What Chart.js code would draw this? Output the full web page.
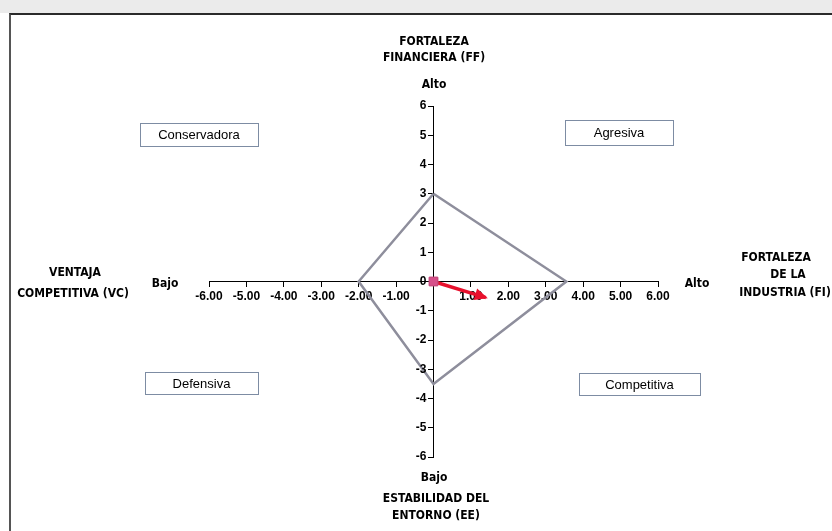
<!DOCTYPE html>
<html lang="es">
<head>
<meta charset="utf-8">
<title>Matriz PEYEA</title>
<script src="https://cdn.jsdelivr.net/npm/chart.js@4/dist/chart.umd.min.js"></script>
<style>
  body { margin: 0; width: 832px; height: 531px; overflow: hidden; background: #fff; position: relative; }
  #banda { position: absolute; left: 0; top: 0; width: 832px; height: 13px; background: #ebebeb; }
  #marco { position: absolute; left: 9px; top: 13px; width: 840px; height: 540px; border-top: 2px solid #2a2a2a; border-left: 2px solid #555; }
  #grafico { position: absolute; left: 0; top: 0; }
</style>
</head>
<body>
<div id="banda"></div>
<div id="marco"></div>
<canvas id="grafico" width="832" height="531"></canvas>
<script>
// === Datos de la matriz PEYEA ===
// Vértices del polígono: FF (arriba), FI (derecha), EE (abajo), VC (izquierda)
const vertices = ["FF", "FI", "EE", "VC", "FF"];
const poligonoX = [0, 3.55, 0, -2.0, 0];
const poligonoY = [3.0, 0, -3.5, 0, 3.0];

// Vector direccional (desde el origen)
const vectorX = [0, 1.4];
const vectorY = [0, -0.55];

// Marcas de los ejes
const ticksX = [-6, -5, -4, -3, -2, -1, 0, 1, 2, 3, 4, 5, 6];
const ticksY = [-6, -5, -4, -3, -2, -1, 0, 1, 2, 3, 4, 5, 6];

// Nombres de los cuadrantes
const cuadrantes = ["Conservadora", "Agresiva", "Defensiva", "Competitiva"];

// === Colores ===
const colores = {
  poligono: '#8e8e9c',
  vector: '#e8112d',
  origen: '#d6508a',
  texto: '#000000',
  caja: '#7d8ca3'
};

const fuenteTitulo = '"Liberation Sans Narrow", "DejaVu Sans Condensed", sans-serif';
const fuenteNormal = '"Liberation Sans", Arial, sans-serif';
const fuenteTicks = { family: fuenteNormal, size: 12, weight: 'bold' };

// === Punta de flecha al final del vector ===
const flechaPlugin = {
  id: 'flecha',
  afterDatasetsDraw(chart) {
    const meta = chart.getDatasetMeta(1);
    if (!meta || meta.data.length < 2) return;
    const p0 = meta.data[0];
    const p1 = meta.data[meta.data.length - 1];
    const ang = Math.atan2(p1.y - p0.y, p1.x - p0.x);
    const ctx = chart.ctx;
    ctx.save();
    ctx.translate(p1.x, p1.y);
    ctx.rotate(ang);
    ctx.fillStyle = colores.vector;
    ctx.beginPath();
    ctx.moveTo(2, 0);
    ctx.lineTo(-11, -6);
    ctx.lineTo(-11, 6);
    ctx.closePath();
    ctx.fill();
    ctx.restore();

    // el marcador del origen queda por encima del vector
    const origen = chart.getDatasetMeta(2);
    if (origen && origen.data[0]) origen.data[0].draw(ctx, chart.chartArea);
  }
};

// === Etiquetas del eje Y a la izquierda del eje central ===
const etiquetasYPlugin = {
  id: 'etiquetasY',
  afterDraw(chart) {
    const { x: sx, y: sy } = chart.scales;
    const ctx = chart.ctx;
    const x0 = sx.getPixelForValue(0);
    ctx.save();
    ctx.font = `${fuenteTicks.weight} ${fuenteTicks.size}px ${fuenteTicks.family}`;
    ctx.fillStyle = colores.texto;
    ctx.textAlign = 'right';
    ctx.textBaseline = 'middle';
    ticksY.forEach(v => {
      ctx.fillText(String(v), x0 - 7, sy.getPixelForValue(v));
    });
    ctx.restore();
  }
};

// === Títulos de ejes y cajas de cuadrantes ===
const textosPlugin = {
  id: 'textos',
  afterDraw(chart) {
    const ctx = chart.ctx;
    ctx.save();
    ctx.fillStyle = colores.texto;
    ctx.textAlign = 'center';
    ctx.textBaseline = 'middle';

    const escribir = (txt, x, y, fuente) => {
      ctx.font = fuente;
      ctx.fillText(txt, x, y);
    };
    const tit = `bold 12px ${fuenteTitulo}`;

    // Eje vertical superior
    escribir("FORTALEZA", 434, 42, tit);
    escribir("FINANCIERA (FF)", 434, 58, tit);
    escribir("Alto", 434, 85, tit);
    // Eje vertical inferior
    escribir("Bajo", 434, 478, tit);
    escribir("ESTABILIDAD DEL", 436, 499, tit);
    escribir("ENTORNO (EE)", 436, 516, tit);
    // Eje horizontal izquierdo
    escribir("VENTAJA", 75, 273, tit);
    escribir("COMPETITIVA (VC)", 73, 294, tit);
    escribir("Bajo", 165, 284, tit);
    // Eje horizontal derecho
    escribir("Alto", 697, 284, tit);
    escribir("FORTALEZA", 776, 258, tit);
    escribir("DE LA", 788, 275, tit);
    escribir("INDUSTRIA (FI)", 785, 293, tit);

    // Cajas de cuadrantes
    const cajas = [
      { x: 140, y: 123, w: 118, h: 23 },
      { x: 565, y: 120, w: 108, h: 25 },
      { x: 145, y: 372, w: 113, h: 22 },
      { x: 579, y: 373, w: 121, h: 22 }
    ];
    cuadrantes.forEach((nombre, i) => {
      const c = cajas[i];
      ctx.fillStyle = '#ffffff';
      ctx.fillRect(c.x, c.y, c.w, c.h);
      ctx.strokeStyle = colores.caja;
      ctx.lineWidth = 1;
      ctx.strokeRect(c.x + 0.5, c.y + 0.5, c.w, c.h);
      ctx.fillStyle = colores.texto;
      escribir(nombre, c.x + c.w / 2, c.y + c.h / 2 + 1, `13px ${fuenteNormal}`);
    });
    ctx.restore();
  }
};

new Chart(document.getElementById("grafico"), {
  type: "scatter",
  data: {
    datasets: [
      {
        label: "Polígono",
        data: poligonoX.map((x, i) => ({ x, y: poligonoY[i], v: vertices[i] })),
        showLine: true,
        borderColor: colores.poligono,
        borderWidth: 2.5,
        pointRadius: 0,
        fill: false,
        order: 3
      },
      {
        label: "Vector",
        data: vectorX.map((x, i) => ({ x, y: vectorY[i] })),
        showLine: true,
        borderColor: colores.vector,
        borderWidth: 3.5,
        pointRadius: 0,
        order: 2
      },
      {
        label: "Origen",
        data: [{ x: vectorX[0], y: vectorY[0] }],
        pointStyle: "rect",
        pointRadius: 6,
        backgroundColor: colores.origen,
        borderColor: '#c44a7c',
        borderWidth: 1,
        order: 1
      }
    ]
  },
  options: {
    responsive: false,
    animation: false,
    devicePixelRatio: 1,
    layout: { padding: { left: 209, right: 174, top: 106, bottom: 74 } },
    plugins: {
      legend: { display: false },
      tooltip: { enabled: false }
    },
    scales: {
      x: {
        type: "linear",
        min: -6,
        max: 6,
        position: { y: 0 },
        afterFit: (s) => { s.height = 0; },
        afterBuildTicks: (s) => { s.ticks = ticksX.map(v => ({ value: v })); },
        border: { display: true, color: '#000', width: 1 },
        grid: { drawOnChartArea: false, drawTicks: true, tickLength: 5, color: '#000' },
        ticks: {
          autoSkip: false,
          maxRotation: 0,
          minRotation: 0,
          padding: 3,
          color: '#000',
          font: fuenteTicks,
          callback: (v) => v === 0 ? '' : Number(v).toFixed(2)
        }
      },
      y: {
        type: "linear",
        min: -6,
        max: 6,
        position: { x: 0 },
        afterFit: (s) => { s.width = 0; },
        afterBuildTicks: (s) => { s.ticks = ticksY.map(v => ({ value: v })); },
        border: { display: true, color: '#000', width: 1 },
        grid: { drawOnChartArea: false, drawTicks: true, tickLength: 5, color: '#000' },
        ticks: {
          autoSkip: false,
          color: '#000',
          font: fuenteTicks,
          // las etiquetas se dibujan en etiquetasYPlugin
          callback: () => ''
        }
      }
    }
  },
  plugins: [flechaPlugin, etiquetasYPlugin, textosPlugin]
});
</script>
</body>
</html>
